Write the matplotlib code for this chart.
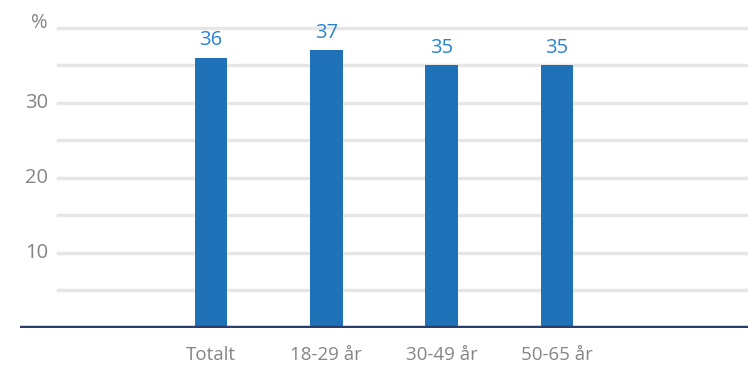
import numpy as np
import matplotlib
matplotlib.use("Agg")
import matplotlib.pyplot as plt

#---------- data ----------
categories = ["Totalt", "18-29 år", "30-49 år", "50-65 år"]
values = [36, 37, 35, 35]
yticks = [10, 20, 30, 40]
ytick_labels = ["10", "20", "30", "%"]
gridlines = [5, 10, 15, 20, 25, 30, 35, 40]

#---------- style ----------
bar_color = "#1f72b8"
label_color = "#2b83d0"
text_gray = "#858585"
grid_color = "#e6e6e6"
axis_color = "#2c3e6b"

plt.rcParams['font.family'] = ['Open Sans', 'DejaVu Sans']

fig = plt.figure(figsize=(7.48, 3.74), dpi=100)
ax = fig.add_axes([20/748, 46/374, 728/748, 328/374])

x = np.arange(len(categories))
ax.bar(x, values, width=0.286, color=bar_color, zorder=3)

for xi, v in zip(x, values):
    ax.text(xi, v + 1.0, str(v), ha='center', va='bottom', color=label_color, fontsize=14.5)

for g in gridlines:
    ax.axhline(g, xmin=38/728, xmax=1, color=grid_color, lw=2.5, zorder=1)

ax.axhline(0, color=axis_color, lw=3.2, zorder=4)

ax.set_xlim(-1.656, 4.656)
ax.set_ylim(0, 43.7)

for t, lab in zip(yticks, ytick_labels):
    dy = 0.7 if lab == "%" else 0
    ax.text(28/728, t + dy, lab, transform=ax.get_yaxis_transform(), ha='right', va='center',
            color=text_gray, fontsize=14.5)

ax.set_xticks(x)
ax.set_xticklabels(categories, color=text_gray, fontsize=13.5)
ax.tick_params(axis='x', length=0, pad=13)
ax.set_yticks([])
for s in ax.spines.values():
    s.set_visible(False)

plt.savefig("out.png", dpi=100)
